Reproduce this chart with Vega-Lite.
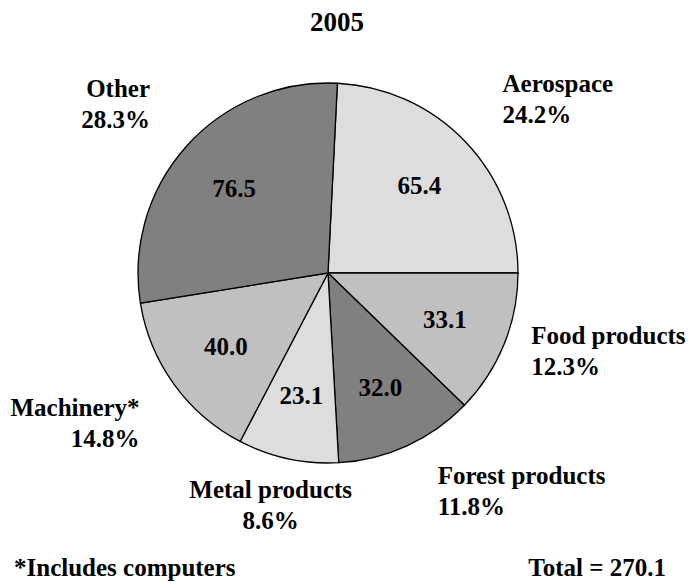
{
  "$schema": "https://vega.github.io/schema/vega-lite/v6.json",
  "background": "white",
  "padding": {"left": 0, "top": 9, "right": 0, "bottom": 0},
  "config": {
    "view": {"stroke": null},
    "font": "Liberation Serif",
    "title": {"font": "Liberation Serif", "fontSize": 25, "fontWeight": "bold", "color": "black"},
    "concat": {"spacing": 18}
  },
  "datasets": {
    "sectors": [
      {"category": "Aerospace", "value": 65.4, "pct": 24.2, "order": 1},
      {"category": "Food products", "value": 33.1, "pct": 12.3, "order": 2},
      {"category": "Forest products", "value": 32.0, "pct": 11.8, "order": 3},
      {"category": "Metal products", "value": 23.1, "pct": 8.6, "order": 4},
      {"category": "Machinery*", "value": 40.0, "pct": 14.8, "order": 5},
      {"category": "Other", "value": 76.5, "pct": 28.3, "order": 6}
    ]
  },
  "bounds": "flush",
  "spacing": 57,
  "vconcat": [
    {
      "width": 656,
      "height": 420,
      "title": {"text": "2005", "anchor": "middle", "frame": "group", "dx": 9, "offset": 26, "fontSize": 27},
      "data": {"name": "sectors"},
      "transform": [
        {"joinaggregate": [{"op": "sum", "field": "value", "as": "total"}]},
        {"stack": "value", "groupby": [], "sort": [{"field": "order", "order": "ascending"}], "as": ["v0", "v1"]},
        {"calculate": "(datum.v0 + datum.v1) / 2", "as": "mid"},
        {"calculate": "0.0494 + 2 * PI * datum.mid / datum.total", "as": "ang"},
        {"calculate": "[datum.category, format(datum.pct, '.1f') + '%']", "as": "lines"}
      ],
      "layer": [
        {
          "mark": {"type": "arc", "outerRadius": 190, "stroke": "black", "strokeWidth": 1.3},
          "encoding": {
            "theta": {"field": "v1", "type": "quantitative", "stack": null, "scale": {"range": [0.0494, 6.3326], "nice": false, "zero": true}},
            "theta2": {"field": "v0"},
            "fill": {
              "field": "category",
              "type": "nominal",
              "scale": {
                "domain": ["Aerospace", "Food products", "Forest products", "Metal products", "Machinery*", "Other"],
                "range": ["#dddddd", "#c0c0c0", "#808080", "#dddddd", "#c0c0c0", "#808080"]
              },
              "legend": null
            }
          }
        },
        {
          "mark": {"type": "text", "radius": 126, "fontSize": 25, "fontWeight": "bold", "color": "black"},
          "encoding": {
            "theta": {"field": "mid", "type": "quantitative", "stack": null},
            "text": {"field": "value", "type": "quantitative", "format": ".1f"}
          }
        },
        {
          "mark": {
            "type": "text",
            "radius": 210,
            "fontSize": 25,
            "fontWeight": "bold",
            "color": "black",
            "lineHeight": 31,
            "align": {"expr": "sin(datum.ang) > 0.3 ? 'left' : (sin(datum.ang) < -0.3 ? 'right' : 'center')"},
            "baseline": {"expr": "cos(datum.ang) > 0.5 ? 'bottom' : (cos(datum.ang) < -0.5 ? 'top' : 'middle')"},
            "dx": {"expr": "65 * sin(datum.ang) * cos(datum.ang) * cos(datum.ang)"},
            "dy": {"expr": "cos(datum.ang) > 0.5 ? -31 : (cos(datum.ang) < -0.5 ? 0 : -15.5)"}
          },
          "encoding": {
            "theta": {"field": "mid", "type": "quantitative", "stack": null},
            "text": {"field": "lines"}
          }
        }
      ]
    },
    {
      "hconcat": [
        {
          "width": 320,
          "height": 1,
          "title": {"text": "*Includes computers", "anchor": "start", "frame": "group", "dx": 14, "orient": "bottom", "offset": 10},
          "data": {"values": [{"note": ""}]},
          "mark": {"type": "text"},
          "encoding": {"text": {"field": "note"}}
        },
        {
          "width": 320,
          "height": 1,
          "title": {"text": "Total = 270.1", "anchor": "end", "frame": "group", "dx": 10, "orient": "bottom", "offset": 10},
          "data": {"values": [{"note": ""}]},
          "mark": {"type": "text"},
          "encoding": {"text": {"field": "note"}}
        }
      ],
      "spacing": 16
    }
  ]
}
